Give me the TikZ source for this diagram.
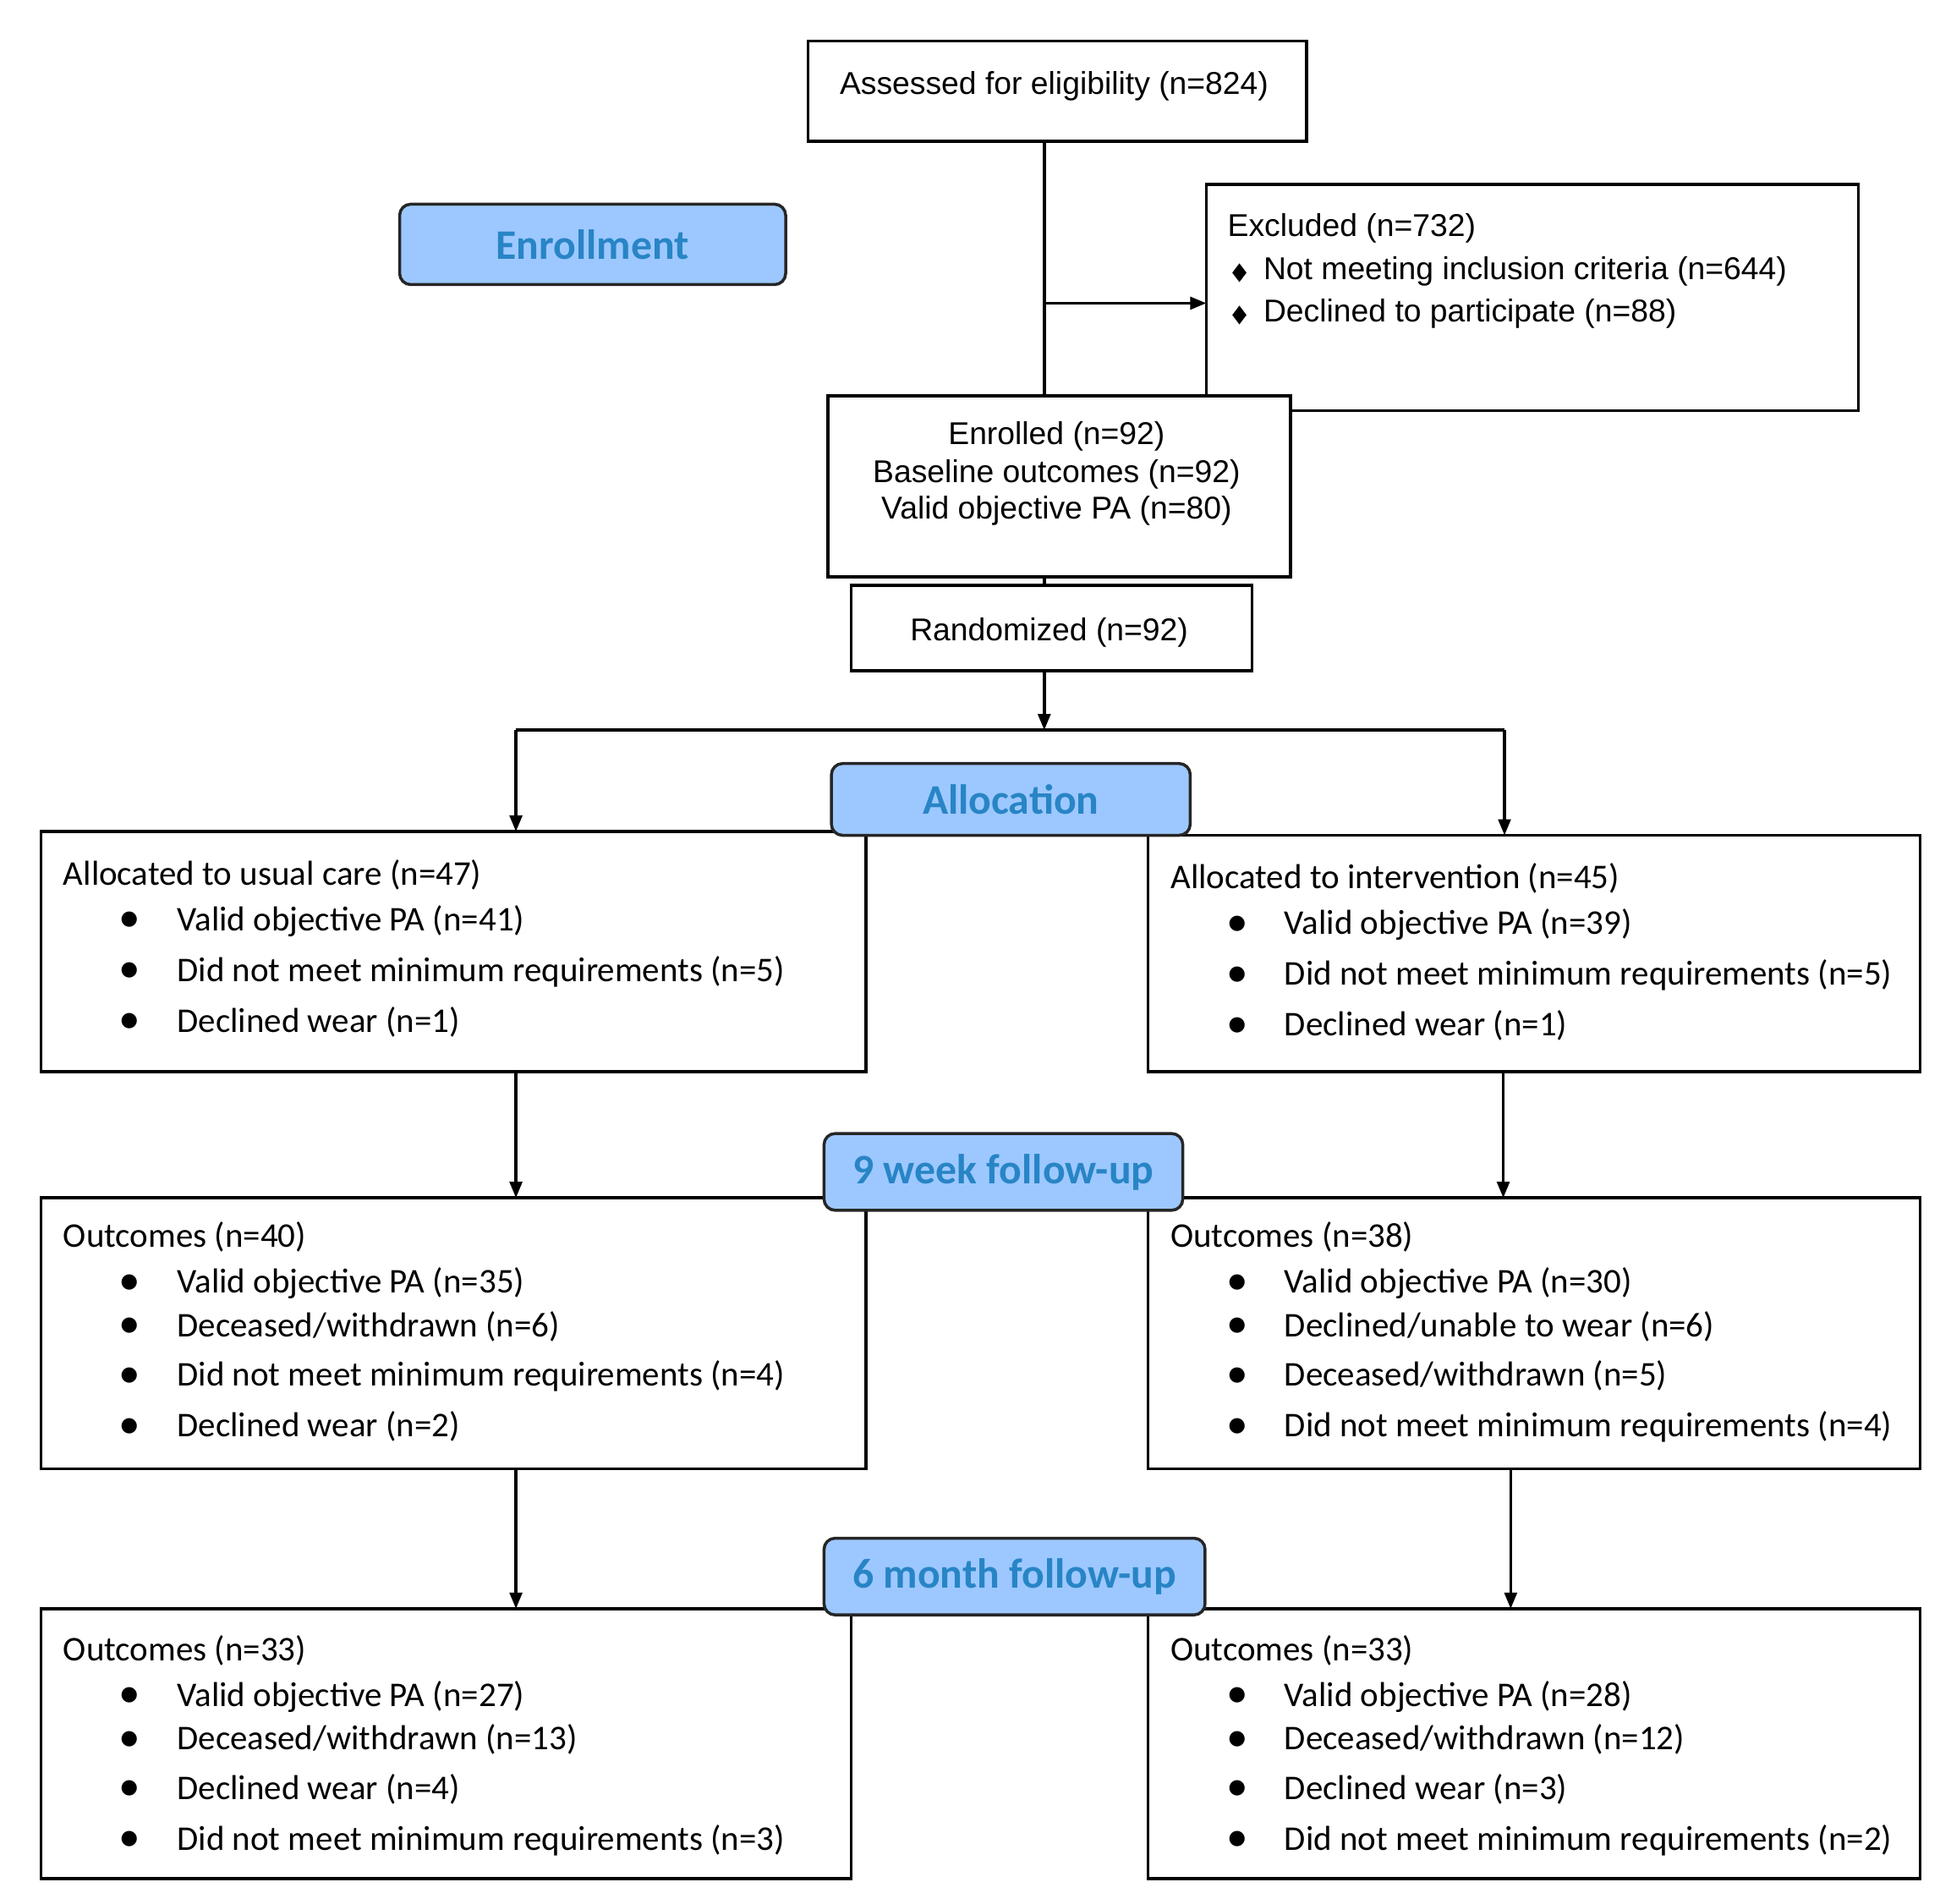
\documentclass[tikz,border=0pt]{standalone}
\usepackage{fontspec}
\setmainfont{Carlito}
\newfontfamily\arialf{Liberation Sans}
\newfontfamily\dejavuf{DejaVu Sans}
\usetikzlibrary{arrows.meta}
\definecolor{lblfill}{HTML}{9DC8FF}
\definecolor{lbltext}{HTML}{2885C5}
\tikzset{
  box/.style={draw=black, line width=2.4pt, fill=white, inner sep=0pt, outer sep=0pt},
  lbl/.style={draw=black!85, line width=2.4pt, fill=lblfill, rounded corners=9pt, inner sep=0pt,
    font=\fontsize{34}{40}\selectfont\bfseries, text=lbltext},
  ttext/.style={font=\arialf\fontsize{25.5}{30}\selectfont, inner sep=0pt, anchor=base},
  ltext/.style={font=\arialf\fontsize{25.5}{30}\selectfont, inner sep=0pt, anchor=base west},
  btext/.style={font=\fontsize{28}{33}\selectfont, inner sep=0pt, anchor=base west},
  conn/.style={line width=2.4pt},
  arr/.style={line width=2.4pt, -{Triangle[length=13pt,width=10pt]}}
}
\newcommand\bl[4]{\node[btext] (#1) at (#2,#3) {\makebox[44pt][l]{\hspace{-3pt}\raisebox{-1pt}{\scalebox{1.25}{•}}}#4};}
\newcommand\dl[4]{\node[ltext] (#1) at (#2,#3) {\makebox[27pt][l]{\hspace{2pt}\dejavuf\fontsize{19}{19}\selectfont\scalebox{0.8}[1.05]{◆}}#4};}
\begin{document}
\begin{tikzpicture}[x=1pt,y=-1pt]
\useasboundingbox[fill=white] (0,0) rectangle (1568,1538);

% boxes
\node[box, minimum width=403pt, minimum height=81pt] (assess) at (854.5,73.5) {};
\node[box, minimum width=527pt, minimum height=183pt] (excl) at (1238.5,240.5) {};
\node[box, minimum width=374pt, minimum height=146pt] (enrol) at (856,393) {};
\node[box, minimum width=324pt, minimum height=69pt] (rand) at (850,507.5) {};
\node[box, minimum width=667pt, minimum height=194pt] (allocL) at (366.5,769) {};
\node[box, minimum width=624pt, minimum height=191pt] (allocR) at (1240,770.5) {};
\node[box, minimum width=667pt, minimum height=219pt] (out9L) at (366.5,1077.5) {};
\node[box, minimum width=624pt, minimum height=219pt] (out9R) at (1240,1077.5) {};
\node[box, minimum width=655pt, minimum height=218pt] (out6L) at (360.5,1409) {};
\node[box, minimum width=624pt, minimum height=218pt] (out6R) at (1240,1409) {};

% connectors
\coordinate (cx) at (844,0);
\coordinate (j1) at (844,245);
\coordinate (split) at (844,590);
\coordinate (sL) at (417,590);
\coordinate (sR) at (1216,590);
\coordinate (rR9) at (1215,0);
\coordinate (rR6) at (1221,0);
\draw[conn] (assess.south -| cx) -- (enrol.north -| cx);
\draw[arr] (j1) -- (excl.west |- j1);
\draw[conn] (enrol.south -| cx) -- (rand.north -| cx);
\draw[arr] (rand.south -| cx) -- (split);
\draw[conn] (sL) -- (sR);
\draw[arr] (sL) -- (allocL.north -| sL);
\draw[arr] (sR) -- (allocR.north -| sR);
\draw[arr] (allocL.south -| sL) -- (out9L.north -| sL);
\draw[arr] (allocR.south -| rR9) -- (out9R.north -| rR9);
\draw[arr] (out9L.south -| sL) -- (out6L.north -| sL);
\draw[arr] (out9R.south -| rR6) -- (out6R.north -| rR6);

% phase labels
\node[lbl, minimum width=312pt, minimum height=65pt] (lenroll) at (479,197.5) {Enrollment};
\node[lbl, minimum width=290pt, minimum height=58pt] (lalloc) at (817,646) {Allocation};
\node[lbl, minimum width=290pt, minimum height=62pt] (l9wk) at (811,947) {9 week follow-up};
\node[lbl, minimum width=308pt, minimum height=62pt] (l6mo) at (820,1274) {6 month follow-up};

% top texts
\node[ttext] (tassess) at (852,76) {Assessed for eligibility (n=824)};
\node[ltext] (texcl) at (992,191) {Excluded (n=732)};
\dl{texcl1}{994}{226}{Not meeting inclusion criteria (n=644)}
\dl{texcl2}{994}{260}{Declined to participate (n=88)}
\node[ttext] (tenr1) at (854,359) {Enrolled (n=92)};
\node[ttext] (tenr2) at (854,390) {Baseline outcomes (n=92)};
\node[ttext] (tenr3) at (854,419) {Valid objective PA (n=80)};
\node[ttext] (trand) at (848,518) {Randomized (n=92)};

% allocation left
\node[btext] (aLh) at (51,715) {Allocated to usual care (n=47)};
\bl{aL1}{99}{752}{Valid objective PA (n=41)}
\bl{aL2}{99}{793}{Did not meet minimum requirements (n=5)}
\bl{aL3}{99}{834}{Declined wear (n=1)}
% allocation right
\node[btext] (aRh) at (946,718) {Allocated to intervention (n=45)};
\bl{aR1}{994}{755}{Valid objective PA (n=39)}
\bl{aR2}{994}{796}{Did not meet minimum requirements (n=5)}
\bl{aR3}{994}{837}{Declined wear (n=1)}

% 9 week left
\node[btext] (wLh) at (51,1008) {Outcomes (n=40)};
\bl{wL1}{99}{1045}{Valid objective PA (n=35)}
\bl{wL2}{99}{1080}{Deceased/withdrawn (n=6)}
\bl{wL3}{99}{1120}{Did not meet minimum requirements (n=4)}
\bl{wL4}{99}{1161}{Declined wear (n=2)}
% 9 week right
\node[btext] (wRh) at (946,1008) {Outcomes (n=38)};
\bl{wR1}{994}{1045}{Valid objective PA (n=30)}
\bl{wR2}{994}{1080}{Declined/unable to wear (n=6)}
\bl{wR3}{994}{1120}{Deceased/withdrawn (n=5)}
\bl{wR4}{994}{1161}{Did not meet minimum requirements (n=4)}

% 6 month left
\node[btext] (mLh) at (51,1342) {Outcomes (n=33)};
\bl{mL1}{99}{1379}{Valid objective PA (n=27)}
\bl{mL2}{99}{1414}{Deceased/withdrawn (n=13)}
\bl{mL3}{99}{1454}{Declined wear (n=4)}
\bl{mL4}{99}{1495}{Did not meet minimum requirements (n=3)}
% 6 month right
\node[btext] (mRh) at (946,1342) {Outcomes (n=33)};
\bl{mR1}{994}{1379}{Valid objective PA (n=28)}
\bl{mR2}{994}{1414}{Deceased/withdrawn (n=12)}
\bl{mR3}{994}{1454}{Declined wear (n=3)}
\bl{mR4}{994}{1495}{Did not meet minimum requirements (n=2)}
\end{tikzpicture}
\end{document}
